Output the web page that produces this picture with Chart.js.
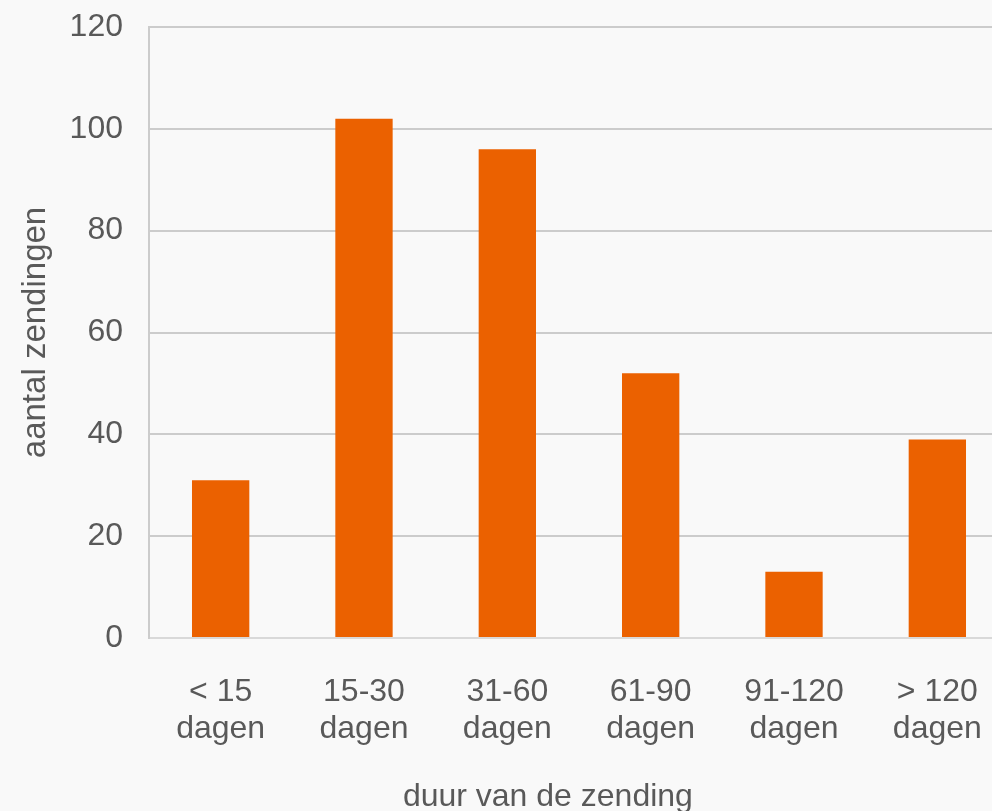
<!DOCTYPE html>
<html lang="nl">
<head>
  <meta charset="UTF-8">
  <title>Duur van de zending</title>
  <script src="https://cdn.jsdelivr.net/npm/chart.js"></script>
  <style>
    html, body {
      margin: 0;
      padding: 0;
      background-color: #f9f9f9;
      overflow: hidden;
    }
    .wrap {
      width: 992px;
      height: 811px;
      overflow: hidden;
    }
  </style>
</head>
<body>
  <div class="wrap">
    <canvas id="barChart" width="1018" height="816"></canvas>
  </div>

  <script>
    // data
    const categories = [
      ['< 15', 'dagen'],
      ['15-30', 'dagen'],
      ['31-60', 'dagen'],
      ['61-90', 'dagen'],
      ['91-120', 'dagen'],
      ['> 120', 'dagen']
    ];
    const zendingen = [31, 102, 96, 52, 13, 39];
    const yTicks = [0, 20, 40, 60, 80, 100, 120];

    const textColor = '#595959';
    const fontFamily = '"Liberation Sans", Arial, sans-serif';

    // the original centres the x title a bit left of the (cut off) plot area,
    // trailing nbsp's nudge it over
    const xTitle = 'duur van de zending' + '\u00a0'.repeat(7);

    const barChart = new Chart(document.getElementById('barChart'), {
      type: 'bar',
      data: {
        labels: categories,
        datasets: [
          {
            label: 'aantal zendingen',
            data: zendingen,
            backgroundColor: '#eb6100',
            barPercentage: 0.4,
            categoryPercentage: 1.0
          }
        ]
      },
      options: {
        responsive: false,
        animation: false,
        layout: {
          padding: { top: 27, right: 2, left: 16, bottom: 0 }
        },
        plugins: {
          legend: { display: false },
          tooltip: { enabled: false }
        },
        scales: {
          x: {
            grid: { display: false, drawTicks: false },
            border: { color: '#d9d9d9', width: 2 },
            ticks: {
              color: textColor,
              padding: 36,
              font: { family: fontFamily, size: 32, lineHeight: 1.15 },
              maxRotation: 0
            },
            title: {
              display: true,
              text: xTitle,
              color: textColor,
              font: { family: fontFamily, size: 32 },
              padding: { top: -6, bottom: 0 }
            }
          },
          y: {
            min: 0,
            max: 120,
            afterBuildTicks: (axis) => {
              axis.ticks = yTicks.map(v => ({ value: v }));
            },
            grid: {
              color: '#cccccc',
              lineWidth: 2,
              drawTicks: true,
              tickLength: 24,
              tickColor: 'rgba(0,0,0,0)'
            },
            border: { color: '#cccccc', width: 2 },
            ticks: {
              color: textColor,
              padding: 2,
              font: { family: fontFamily, size: 32 }
            },
            title: {
              display: true,
              text: 'aantal zendingen',
              color: textColor,
              font: { family: fontFamily, size: 33 },
              padding: { top: 0, bottom: 12 }
            }
          }
        }
      }
    });
  </script>
</body>
</html>
